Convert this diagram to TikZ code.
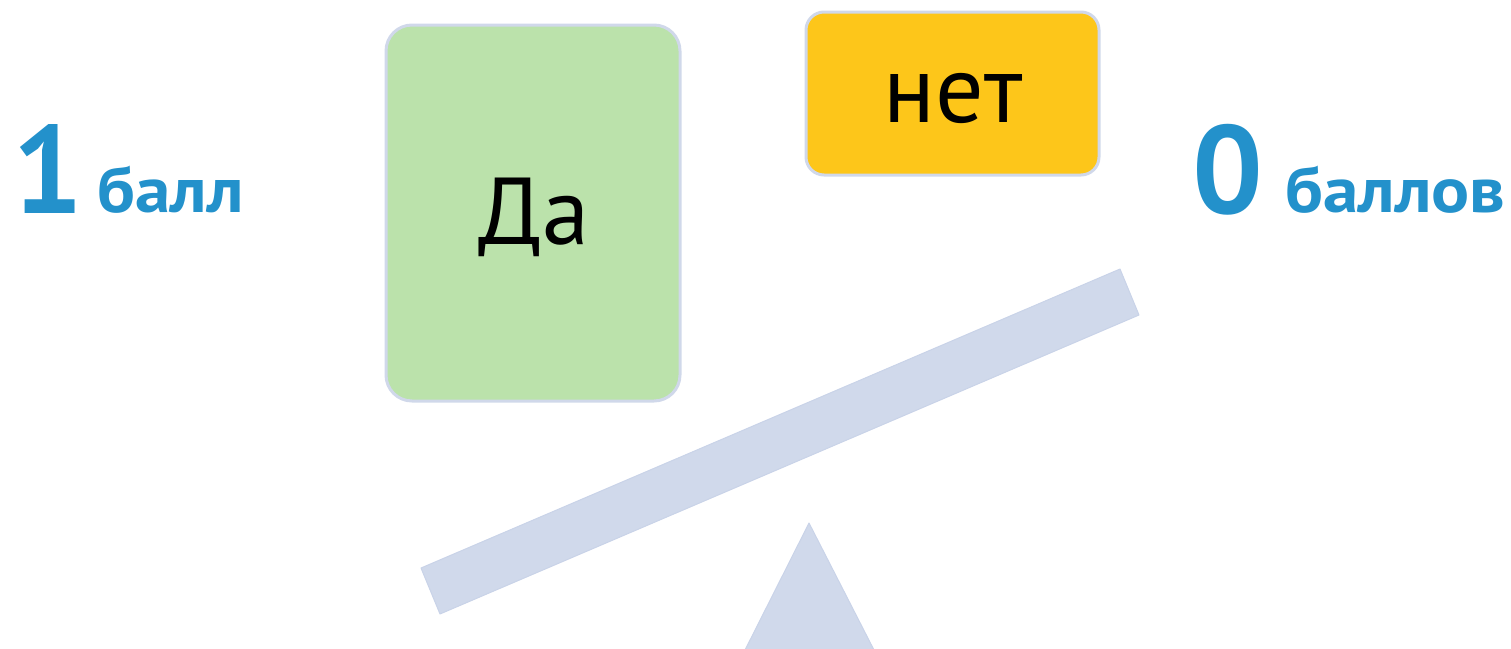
\documentclass[tikz,border=0pt]{standalone}
\usepackage{fontspec}
\setmainfont{PT Sans}
\newfontfamily\widesans[FakeStretch=1.11]{PT Sans}
\definecolor{scoreblue}{HTML}{2391CB}
\definecolor{yesgreen}{HTML}{BBE2AB}
\definecolor{noyellow}{HTML}{FDC61A}
\definecolor{edgegray}{HTML}{D0D8EA}
\definecolor{scalefill}{HTML}{D0D9EB}
\definecolor{scaleedge}{HTML}{C9D3E8}
\begin{document}
\begin{tikzpicture}[x=1pt,y=-1pt,
  card/.style={draw=edgegray, line width=3pt, rounded corners=26pt},
  score/.style={text=scoreblue, inner sep=0pt, anchor=base west},
  scalepart/.style={fill=scalefill, draw=scaleedge, line width=1pt, line join=round}]
\useasboundingbox (0,0) rectangle (1511,648);
% cards
\draw[card, fill=yesgreen] (386,25) rectangle (680,401);
\node[inner sep=0pt, font=\fontsize{95}{100}\selectfont] (da) at (534,217) {Да};
\draw[card, fill=noyellow, rounded corners=18pt] (806,12) rectangle (1099,175);
\node[inner sep=0pt, font=\fontsize{96}{100}\selectfont] (net) at (953,98) {нет};
% scores
\node[score, font=\bfseries\fontsize{125}{130}\selectfont] (one) at (12,213) {1};
\node[score, font=\widesans\bfseries\fontsize{64}{70}\selectfont] (ball) at (97,212) {балл};
\node[score, font=\bfseries\fontsize{125}{130}\selectfont] (zero) at (1192,213) {0};
\node[score, font=\widesans\bfseries\fontsize{64}{70}\selectfont] (balls) at (1285,212) {баллов};
% scale
\draw[scalepart] (421,568) -- (1120,269) -- (1139,315) -- (440,614) -- cycle;
\draw[scalepart] (809,523) -- (874,650) -- (745,650) -- cycle;
\end{tikzpicture}
\end{document}
